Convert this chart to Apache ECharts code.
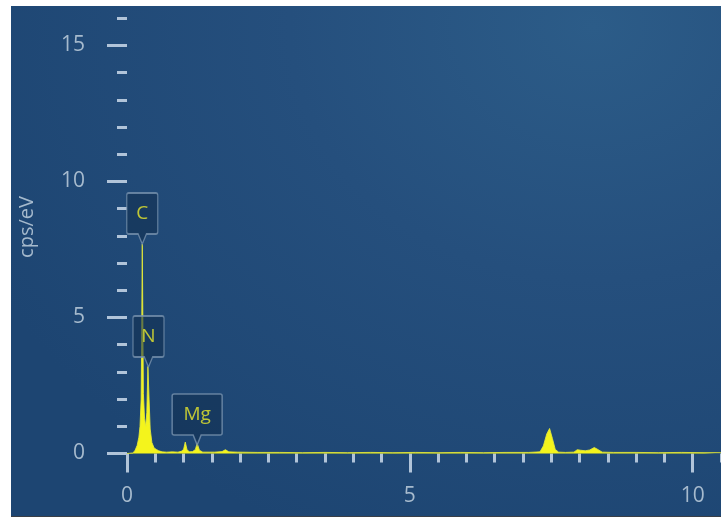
<!DOCTYPE html>
<html>
<head>
<meta charset="utf-8">
<script src="https://cdn.jsdelivr.net/npm/echarts@6/dist/echarts.min.js"></script>
<style>
html,body{margin:0;padding:0;background:#ffffff;}
#wrap{position:relative;width:721px;height:519px;overflow:hidden;background:#ffffff;}
#panel{position:absolute;left:11px;top:6px;width:710px;height:510px;
  background:radial-gradient(ellipse 95% 110% at 82% 4%, #2c5c88 0%, #254f7d 45%, #1d4572 100%);
  border-bottom:1px solid #3a3f46;}
#chart{position:absolute;left:0;top:0;width:721px;height:519px;}
</style>
</head>
<body>
<div id="wrap"><div id="panel"></div><div id="chart"></div></div>
<script>
// Spectrum: energy (keV) and intensity (cps/eV)
const energy = [0.00,0.10,0.14,0.18,0.21,0.23,0.25,0.26,0.27,0.28,0.29,0.31,0.33,0.35,0.37,0.39,0.41,0.44,0.48,0.52,0.56,0.62,0.70,0.80,0.90,0.96,1.00,1.03,1.06,1.10,1.16,1.21,1.24,1.28,1.34,1.45,1.55,1.68,1.74,1.80,1.95,2.30,2.70,3.10,3.50,3.90,4.30,4.70,5.10,5.50,5.90,6.30,6.70,7.10,7.30,7.36,7.42,7.47,7.52,7.57,7.63,7.75,7.90,7.96,8.02,8.10,8.18,8.26,8.33,8.40,8.60,9.00,9.40,9.80,10.20,10.50];
const cps    = [0.00,0.02,0.10,0.30,0.60,1.00,2.00,4.50,7.70,5.00,2.20,1.30,1.00,1.50,3.20,2.00,0.90,0.40,0.20,0.15,0.10,0.06,0.05,0.06,0.05,0.08,0.15,0.42,0.15,0.06,0.07,0.15,0.38,0.12,0.05,0.05,0.05,0.07,0.14,0.06,0.05,0.04,0.04,0.03,0.04,0.03,0.04,0.03,0.04,0.03,0.04,0.03,0.04,0.04,0.06,0.28,0.72,0.92,0.55,0.15,0.05,0.04,0.05,0.14,0.12,0.10,0.13,0.22,0.14,0.05,0.04,0.04,0.03,0.04,0.03,0.03];

// Element markers: label, energy of pointer tip, height of pointer tip
const peakLabels = ['C', 'N', 'Mg'];
const peakEnergy = [0.27, 0.38, 1.24];
const peakHeight = [7.70, 3.18, 0.31];

// Axis ticks
const xMajorTicks = [0, 5, 10];
const yMajorTicks = [0, 5, 10, 15];

const chart = echarts.init(document.getElementById('chart'), null, {renderer: 'canvas'});

const tickColor = '#b1c4d9';
const labelColor = '#a6bacd';
const fontFam = '"Open Sans", "Noto Sans", sans-serif';

const boxSmall = 'path://M2,0 H28 Q30,0 30,2 V39 Q30,41 28,41 H19 L15,51 L11,41 H2 Q0,41 0,39 V2 Q0,0 2,0 Z';
const boxWide  = 'path://M2,0 H48 Q50,0 50,2 V39 Q50,41 48,41 H29 L25,51 L21,41 H2 Q0,41 0,39 V2 Q0,0 2,0 Z';

const peakData = peakLabels.map((lab, i) => ({
  value: [peakEnergy[i], peakHeight[i]],
  name: lab,
  symbol: lab.length > 1 ? boxWide : boxSmall,
  symbolSize: lab.length > 1 ? [50, 51] : [31, 51]
}));

const option = {
  animation: false,
  backgroundColor: 'transparent',
  grid: [
    {left: 127, right: 0, top: 18.3, bottom: 65.5, containLabel: false},
    {left: 127, right: 28.3, top: 45.5, bottom: 65.5, containLabel: false}
  ],
  xAxis: [
    {
      type: 'value', gridIndex: 0, min: 0, max: 10.5, interval: 0.5, offset: 5,
      axisLine: {show: false}, splitLine: {show: false},
      axisTick: {show: true, length: 9, lineStyle: {color: tickColor, width: 3}},
      axisLabel: {show: false}
    },
    {
      type: 'value', gridIndex: 1, min: 0, max: 10, interval: 5, offset: 5,
      axisLine: {show: false}, splitLine: {show: false},
      axisTick: {show: true, length: 19, lineStyle: {color: tickColor, width: 3}},
      axisLabel: {show: true, margin: 27, color: labelColor, fontSize: 21, fontFamily: fontFam,
        formatter: v => xMajorTicks.indexOf(v) >= 0 ? String(v) : ''}
    }
  ],
  yAxis: [
    {
      type: 'value', gridIndex: 0, min: 0, max: 16, interval: 1, offset: 17,
      axisLine: {show: false}, splitLine: {show: false},
      axisTick: {show: true, length: 10, lineStyle: {color: tickColor, width: 3}},
      axisLabel: {show: false}
    },
    {
      type: 'value', gridIndex: 1, min: 0, max: 15, interval: 5, offset: 17,
      axisLine: {show: false}, splitLine: {show: false},
      axisTick: {show: true, length: 20, lineStyle: {color: tickColor, width: 3}},
      axisLabel: {show: true, margin: 25, color: labelColor, fontSize: 21, fontFamily: fontFam,
        formatter: v => yMajorTicks.indexOf(v) >= 0 ? String(v) : ''}
    }
  ],
  graphic: [
    {
      type: 'text', x: 27, y: 227, rotation: Math.PI / 2,
      style: {text: 'cps/eV', fill: labelColor, fontSize: 20, fontFamily: fontFam,
        textAlign: 'center', textVerticalAlign: 'middle'},
      silent: true
    }
  ],
  series: [
    {
      type: 'line', xAxisIndex: 0, yAxisIndex: 0,
      data: energy.map((e, i) => [e, cps[i]]),
      showSymbol: false, symbol: 'none', smooth: false,
      lineStyle: {color: '#e6eb3a', width: 1, opacity: 0.85},
      areaStyle: {color: '#f4f41c', opacity: 1},
      z: 2
    },
    {
      type: 'scatter', xAxisIndex: 0, yAxisIndex: 0,
      data: peakData,
      symbolOffset: [0, '-50%'],
      itemStyle: {color: 'rgba(18,46,80,0.72)', borderColor: '#7892ae', borderWidth: 1.5},
      label: {show: true, position: 'inside', offset: [0, -5],
        formatter: p => p.name, color: '#eaea2c', fontSize: 19, fontFamily: fontFam,
        textBorderWidth: 0},
      emphasis: {disabled: true},
      z: 5
    }
  ]
};
chart.setOption(option);
</script>
</body>
</html>
